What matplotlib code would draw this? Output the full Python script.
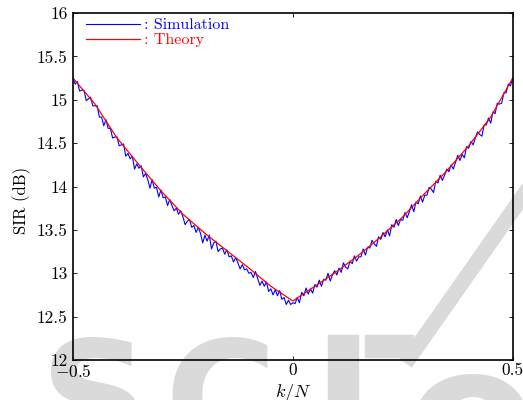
import numpy as np
import matplotlib
matplotlib.use('Agg')
import matplotlib.pyplot as plt
from matplotlib.lines import Line2D
from matplotlib.patches import Rectangle

plt.rcParams['font.family'] = 'serif'
plt.rcParams['font.serif'] = ['cmr10']
plt.rcParams['mathtext.fontset'] = 'cm'
plt.rcParams['axes.formatter.use_mathtext'] = True

# теория, шаг 0.05 по k/N
k_theory = [-0.5, -0.45, -0.4, -0.35, -0.3, -0.25, -0.2, -0.15, -0.1, -0.05, 0.0,
            0.05, 0.1, 0.15, 0.2, 0.25, 0.3, 0.35, 0.4, 0.45, 0.5]
sir_theory = [15.25, 14.95, 14.56, 14.25, 13.95, 13.68, 13.46, 13.26, 13.06, 12.85, 12.68,
              12.85, 13.02, 13.21, 13.42, 13.65, 13.92, 14.18, 14.47, 14.80, 15.25]

# моделирование, 201 точка от -0.5 до 0.5
sir_sim = [
    15.25, 15.18, 15.21, 15.10, 15.11, 15.11, 14.99, 15.01, 15.03, 14.93,
    14.93, 14.93, 14.80, 14.80, 14.70, 14.77, 14.67, 14.67, 14.56, 14.57,
    14.57, 14.47, 14.48, 14.49, 14.35, 14.38, 14.32, 14.35, 14.20, 14.26,
    14.21, 14.24, 14.11, 14.15, 14.08, 13.98, 14.08, 13.98, 13.99, 13.88,
    13.96, 13.87, 13.88, 13.78, 13.85, 13.78, 13.72, 13.75, 13.68, 13.72,
    13.65, 13.56, 13.60, 13.62, 13.53, 13.55, 13.47, 13.53, 13.46, 13.35,
    13.44, 13.37, 13.44, 13.28, 13.35, 13.37, 13.25, 13.28, 13.29, 13.22,
    13.27, 13.19, 13.20, 13.13, 13.18, 13.12, 13.05, 13.10, 13.04, 13.05,
    13.00, 13.01, 12.95, 13.02, 12.94, 12.86, 12.91, 12.85, 12.90, 12.79,
    12.82, 12.75, 12.81, 12.74, 12.80, 12.70, 12.72, 12.64, 12.69, 12.64,
    12.66,
    12.65, 12.72, 12.66, 12.78, 12.74, 12.83, 12.76, 12.82, 12.77, 12.87,
    12.84, 12.92, 12.85, 12.93, 12.92, 13.00, 12.91, 12.98, 13.03, 12.98,
    13.06, 13.01, 13.12, 13.07, 13.05, 13.14, 13.11, 13.20, 13.14, 13.19,
    13.19, 13.28, 13.21, 13.30, 13.29, 13.38, 13.34, 13.31, 13.42, 13.39,
    13.47, 13.42, 13.50, 13.43, 13.56, 13.53, 13.62, 13.55, 13.62, 13.61,
    13.70, 13.64, 13.71, 13.79, 13.71, 13.82, 13.80, 13.89, 13.82, 13.90,
    13.90, 13.99, 13.97, 13.93, 14.06, 14.04, 14.13, 14.07, 14.13, 14.20,
    14.17, 14.25, 14.20, 14.28, 14.36, 14.30, 14.37, 14.33, 14.46, 14.44,
    14.52, 14.48, 14.56, 14.63, 14.60, 14.58, 14.71, 14.71, 14.79, 14.73,
    14.86, 14.84, 14.96, 14.95, 14.96, 15.08, 15.08, 15.18, 15.16, 15.25,
]
k_sim = np.linspace(-0.5, 0.5, len(sir_sim))

x_ticks = [-0.5, 0, 0.5]
x_labels = ['$-0.5$', '0', '0.5']
y_ticks = [12, 12.5, 13, 13.5, 14, 14.5, 15, 15.5, 16]

W, H = 523, 400
fig = plt.figure(figsize=(W / 100, H / 100), dpi=100)

# водяной знак (под осями)
wm = '#dadada'
fig.text(95 / W, 1 - 334 / H, 'S', fontsize=110, color=wm, weight='bold',
         family='DejaVu Sans', ha='center', va='top', zorder=0)
fig.text(220 / W, 1 - 334 / H, 'C', fontsize=110, color=wm, weight='bold',
         family='DejaVu Sans', ha='center', va='top', zorder=0)
fig.patches.append(Rectangle((328 / W, 0), 30 / W, 65 / H, transform=fig.transFigure,
                             color=wm, zorder=0))
fig.patches.append(Rectangle((365 / W, 43 / H), 48 / W, 22 / H, transform=fig.transFigure,
                             color=wm, zorder=0))
fig.lines.append(Line2D([410 / W, 530 / W], [1 - 357 / H, 1 - 186 / H], transform=fig.transFigure,
                        color=wm, lw=11, zorder=0))
fig.text(472 / W, 1 - 334 / H, 'e', fontsize=145, color=wm, weight='bold',
         family='DejaVu Sans', ha='center', va='top', zorder=0)

ax = fig.add_axes([73 / W, 40 / H, 439.7 / W, 347 / H])
ax.set_zorder(5)
ax.set_facecolor('none')

ax.plot(k_sim, sir_sim, color='blue', lw=0.8, label=': Simulation')
ax.plot(k_theory, sir_theory, color='red', lw=0.9, label=': Theory')

ax.set_xlim(-0.5, 0.5)
ax.set_ylim(12, 16)
ax.set_xticks(x_ticks, labels=x_labels)
ax.set_yticks(y_ticks, labels=['%g' % v for v in y_ticks])
ax.tick_params(direction='in', top=True, right=True, length=3, width=0.6, labelsize=12.5)
ax.tick_params(axis='x', pad=2)
ax.tick_params(axis='y', pad=4)
for s in ax.spines.values():
    s.set_linewidth(1.2)

ax.set_xlabel('$k/N$', fontsize=13)
ax.xaxis.set_label_coords(0.5, -0.062)
ax.set_ylabel('SIR (dB)', fontsize=12)
ax.yaxis.set_label_coords(-0.095, 0.46)

leg = ax.legend(loc='upper left', bbox_to_anchor=(0.03, 0.985), frameon=False,
                fontsize=11.5, handlelength=3.4, handletextpad=0.2,
                labelspacing=0.05, borderpad=0, borderaxespad=0)
for t, c in zip(leg.get_texts(), ['blue', 'red']):
    t.set_color(c)

fig.savefig('out.png', dpi=100)
